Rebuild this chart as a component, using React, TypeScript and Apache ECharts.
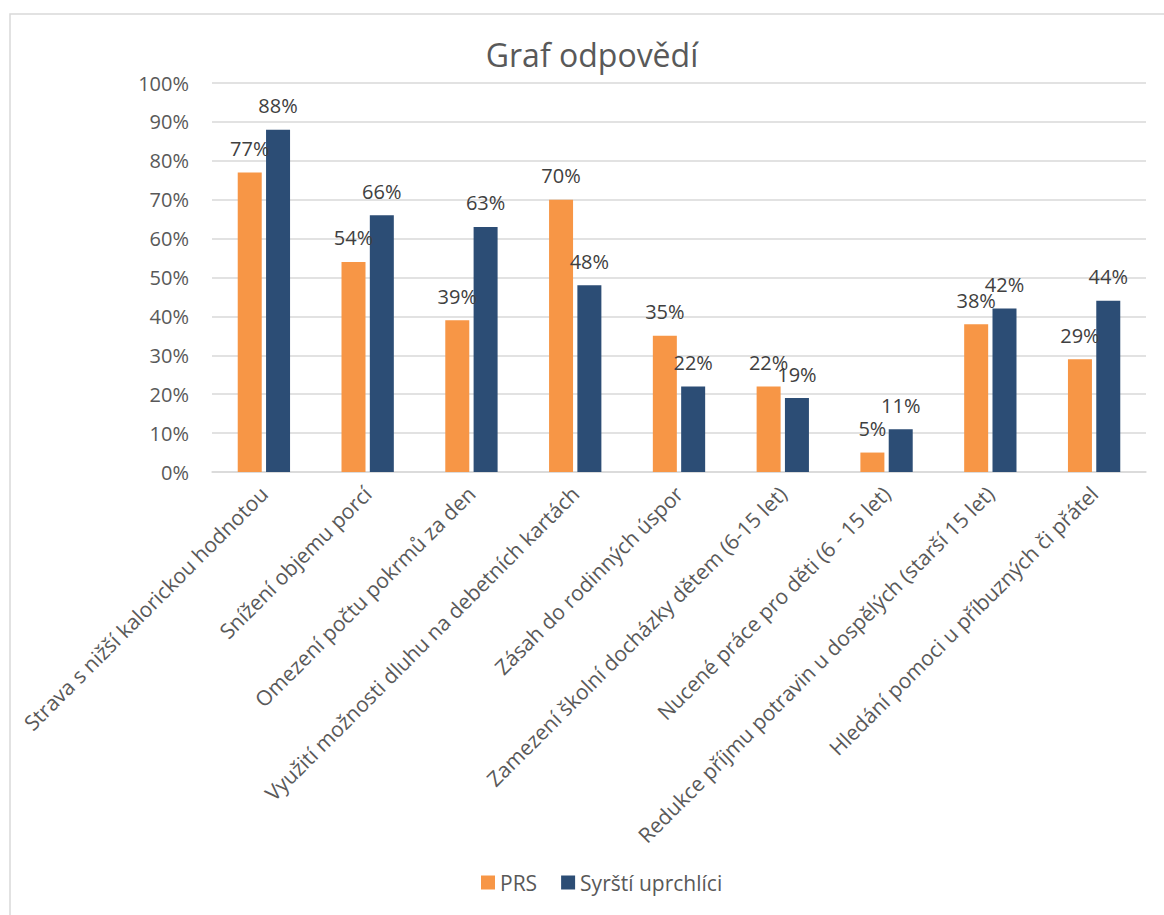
import React, { useEffect, useRef } from "react";
import * as echarts from "echarts";

const categories = [
  "Strava s nižší kalorickou hodnotou",
  "Snížení objemu porcí",
  "Omezení počtu pokrmů za den",
  "Využití možnosti dluhu na debetních kartách",
  "Zásah do rodinných úspor",
  "Zamezení školní docházky dětem (6-15 let)",
  "Nucené práce pro děti (6 - 15 let)",
  "Redukce příjmu potravin u dospělých (starší 15 let)",
  "Hledání pomoci u příbuzných či přátel",
];
const prs = [77, 54, 39, 70, 35, 22, 5, 38, 29];
const syrian = [88, 66, 63, 48, 22, 19, 11, 42, 44];
const seriesNames = ["PRS", "Syrští uprchlíci"];
const title = "Graf odpovědí";

const FONT = "'Open Sans', 'Noto Sans', sans-serif";

export default function App() {
  const ref = useRef<HTMLDivElement>(null);
  useEffect(() => {
    if (!ref.current) return;
    const chart = echarts.init(ref.current, null, { renderer: "svg" });
    const label = {
      show: true,
      position: "top",
      distance: 14,
      formatter: "{c}%",
      color: "#404040",
      fontSize: 20,
      fontFamily: FONT,
    };
    chart.setOption({
      animation: false,
      textStyle: { fontFamily: FONT },
      title: {
        text: title,
        left: 587,
        top: 33,
        textAlign: "center",
        textStyle: { color: "#595959", fontSize: 32, fontWeight: "normal", fontFamily: FONT },
      },
      graphic: [
        {
          type: "rect",
          shape: { x: 10, y: 14, width: 1180, height: 940 },
          style: { fill: "none", stroke: "#d9d9d9", lineWidth: 1.5 },
        },
      ],
      legend: {
        bottom: 17,
        left: 476,
        itemWidth: 14,
        itemHeight: 14,
        itemGap: 24,
        icon: "rect",
        textStyle: { color: "#595959", fontSize: 21, fontFamily: FONT },
        data: seriesNames,
      },
      grid: { left: 212, right: 18, top: 83, bottom: 443, containLabel: false },
      xAxis: {
        type: "category",
        data: categories,
        axisLine: { lineStyle: { color: "#d9d9d9", width: 1.5 } },
        axisTick: { show: false },
        axisLabel: {
          rotate: 45,
          interval: 0,
          margin: 18,
          color: "#595959",
          fontSize: 21,
          fontFamily: FONT,
        },
      },
      yAxis: {
        type: "value",
        min: 0,
        max: 100,
        interval: 10,
        axisLine: { show: false },
        axisTick: { show: false },
        splitLine: { lineStyle: { color: "#d9d9d9", width: 1.5 } },
        axisLabel: {
          formatter: "{value}%",
          color: "#595959",
          fontSize: 20,
          margin: 23,
          fontFamily: FONT,
        },
      },
      series: [
        {
          name: seriesNames[0],
          type: "bar",
          data: prs,
          barWidth: 24,
          barGap: "18%",
          itemStyle: { color: "#F79646" },
          label,
        },
        {
          name: seriesNames[1],
          type: "bar",
          data: syrian,
          barWidth: 24,
          itemStyle: { color: "#2C4D75" },
          label,
        },
      ],
    });
    return () => chart.dispose();
  }, []);
  return (
    <div
      ref={ref}
      style={{ position: "fixed", left: 0, top: 0, width: 1164, height: 915, background: "#fff" }}
    />
  );
}
